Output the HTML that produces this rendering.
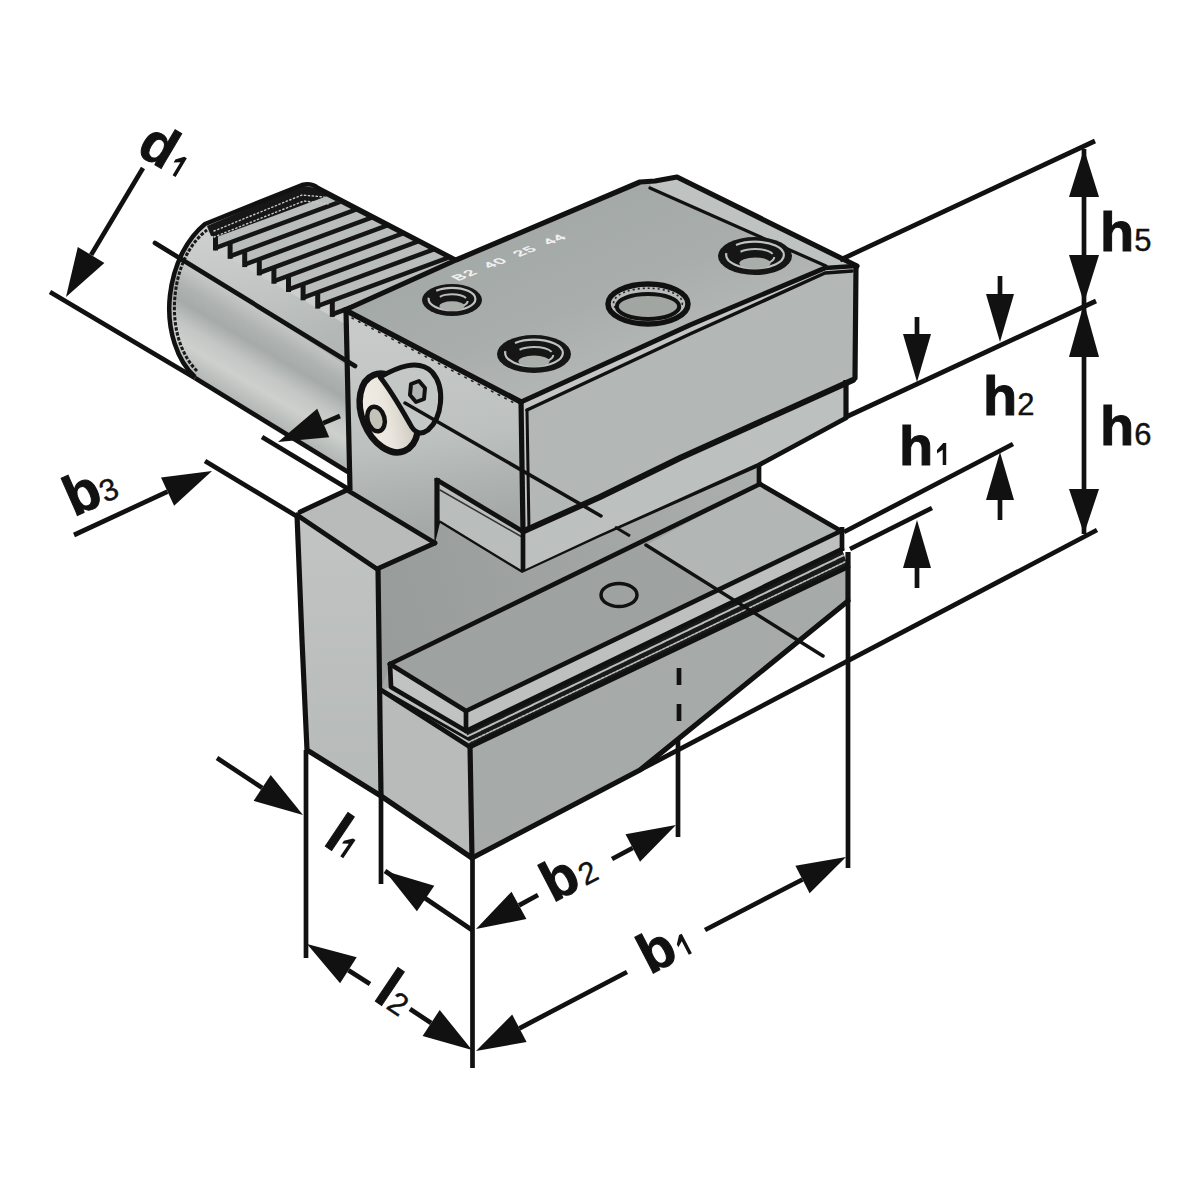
<!DOCTYPE html>
<html><head><meta charset="utf-8"><style>
html,body{margin:0;padding:0;background:#fff;}
svg{display:block;}
text{font-family:"Liberation Sans", sans-serif;fill:#111;}
</style></head><body>
<svg width="1200" height="1200" viewBox="0 0 1200 1200">
<defs>
<linearGradient id="gCyl" gradientUnits="userSpaceOnUse" x1="222" y1="236" x2="152" y2="354">
 <stop offset="0" stop-color="#cdd0ce"/>
 <stop offset="0.3" stop-color="#c7cac8"/>
 <stop offset="0.45" stop-color="#afb3b2"/>
 <stop offset="0.56" stop-color="#a6aba9"/>
 <stop offset="0.7" stop-color="#c3c6c4"/>
 <stop offset="0.82" stop-color="#cdd0cd"/>
 <stop offset="1" stop-color="#b0b4b2"/>
</linearGradient>
<linearGradient id="gLeft" gradientUnits="userSpaceOnUse" x1="400" y1="330" x2="430" y2="530">
 <stop offset="0" stop-color="#c7cac8"/>
 <stop offset="0.55" stop-color="#bdc1bf"/>
 <stop offset="0.8" stop-color="#aeb2b0"/>
 <stop offset="1" stop-color="#a4a9a7"/>
</linearGradient>
<linearGradient id="gPillar" x1="0" y1="0" x2="0" y2="1">
 <stop offset="0" stop-color="#c1c4c2"/>
 <stop offset="1" stop-color="#b6bab8"/>
</linearGradient>
<linearGradient id="gWall" gradientUnits="userSpaceOnUse" x1="380" y1="600" x2="760" y2="480">
 <stop offset="0" stop-color="#989d9c"/>
 <stop offset="0.5" stop-color="#a0a5a3"/>
 <stop offset="1" stop-color="#abafad"/>
</linearGradient>
<linearGradient id="gBolt" x1="0" y1="0" x2="1" y2="0.3">
 <stop offset="0" stop-color="#f3f0ea"/>
 <stop offset="0.55" stop-color="#ebe6dd"/>
 <stop offset="1" stop-color="#cfcac1"/>
</linearGradient>
<linearGradient id="gTop" gradientUnits="userSpaceOnUse" x1="600" y1="190" x2="660" y2="340">
 <stop offset="0" stop-color="#a3a9a6"/>
 <stop offset="0.6" stop-color="#a9aeac"/>
 <stop offset="1" stop-color="#b1b5b3"/>
</linearGradient>
<linearGradient id="gCylOv" gradientUnits="userSpaceOnUse" x1="205" y1="250" x2="340" y2="330">
 <stop offset="0" stop-color="#5a6464" stop-opacity="0"/>
 <stop offset="0.5" stop-color="#5a6464" stop-opacity="0.08"/>
 <stop offset="1" stop-color="#5a6464" stop-opacity="0.2"/>
</linearGradient>
</defs>
<rect width="1200" height="1200" fill="#fff"/>
<polygon points="297,515 350,488 437,478 522,528 523,573 600,537 757,466 759,484 841,531 842,549 848,567 848,601 640,770 472,858 307,750" fill="#a3a8a7" />
<path d="M195,377 C178,362 166,330 170,295 C174,262 188,238 205,224 L302,185 C310,183 314,185 318,188 L453,256 L345,310 L348,472 Z" fill="url(#gCyl)"/>
<polygon points="185,250 215,250 347,325 347,366 180,258" fill="url(#gCylOv)" />
<polygon points="207,224 302,185 318,188 456,260 345,310 361.0,319.8 346.4,325.2 346.4,310.7 346.4,311.5 331.8,316.9 331.8,302.4 331.8,303.2 317.2,308.6 317.2,294.1 317.2,294.9 302.6,300.3 302.6,285.8 302.6,286.6 288.0,292.0 288.0,277.5 288.0,278.3 273.4,283.7 273.4,269.2 273.4,270.0 258.8,275.4 258.8,260.9 258.8,261.7 244.2,267.1 244.2,252.6 244.2,253.4 229.6,258.8 229.6,244.3 229.6,245.1 215.0,250.5 215.0,236.0 208,232" fill="#b9bdbb" />
<polygon points="215.0,245.7 335.9,201.0 341.4,203.7 215.0,250.5" fill="#151515" />
<polygon points="213.0,235.5 218.0,235.5 218.0,250.5 213.0,250.5" fill="#151515" />
<polygon points="229.6,254.0 351.7,208.8 357.2,211.6 229.6,258.8" fill="#151515" />
<polygon points="227.6,243.8 232.6,243.8 232.6,258.8 227.6,258.8" fill="#151515" />
<polygon points="244.2,262.3 367.4,216.7 372.9,219.5 244.2,267.1" fill="#151515" />
<polygon points="242.2,252.1 247.2,252.1 247.2,267.1 242.2,267.1" fill="#151515" />
<polygon points="258.8,270.6 383.2,224.6 388.7,227.3 258.8,275.4" fill="#151515" />
<polygon points="256.8,260.4 261.8,260.4 261.8,275.4 256.8,275.4" fill="#151515" />
<polygon points="273.4,278.9 398.9,232.5 404.4,235.2 273.4,283.7" fill="#151515" />
<polygon points="271.4,268.7 276.4,268.7 276.4,283.7 271.4,283.7" fill="#151515" />
<polygon points="288.0,287.2 414.7,240.3 420.2,243.1 288.0,292.0" fill="#151515" />
<polygon points="286.0,277.0 291.0,277.0 291.0,292.0 286.0,292.0" fill="#151515" />
<polygon points="302.6,295.5 430.4,248.2 435.9,251.0 302.6,300.3" fill="#151515" />
<polygon points="300.6,285.3 305.6,285.3 305.6,300.3 300.6,300.3" fill="#151515" />
<polygon points="317.2,303.8 446.2,256.1 451.7,258.8 317.2,308.6" fill="#151515" />
<polygon points="315.2,293.6 320.2,293.6 320.2,308.6 315.2,308.6" fill="#151515" />
<polygon points="331.8,312.1 461.9,264.0 467.4,266.7 331.8,316.9" fill="#151515" />
<polygon points="329.8,301.9 334.8,301.9 334.8,316.9 329.8,316.9" fill="#151515" />
<polygon points="346.4,320.4 477.7,271.8 483.2,274.6 346.4,325.2" fill="#151515" />
<polygon points="344.4,310.2 349.4,310.2 349.4,325.2 344.4,325.2" fill="#151515" />
<polygon points="318,188 456,260 454,262 318,192" fill="#151515" />
<polygon points="207,226 302,186 318,188 326.6,196.3 218.0,236.5 211,236" fill="#171717" />
<polyline points="214,231 302,195 324,197" fill="none" stroke="#c4c8c6" stroke-width="1.4" stroke-linejoin="round" stroke-linecap="round" stroke-dasharray="1.3 2.6" stroke-linecap="butt"/>
<polyline points="214,237 304,201 328,204" fill="none" stroke="#c4c8c6" stroke-width="1.4" stroke-linejoin="round" stroke-linecap="round" stroke-dasharray="1.3 2.6" stroke-linecap="butt"/>
<path d="M195,377 C178,362 166,330 170,295 C174,262 188,238 205,224 L302,185 C310,183 314,185 318,188 L456,260" fill="none" stroke="#111" stroke-width="4.5" stroke-linejoin="round"/>
<path d="M197,371 C181,355 172,328 175,296 C178,265 191,242 207,230" fill="none" stroke="#1a1a1a" stroke-width="3" stroke-dasharray="3.5 1.6"/>
<polygon points="345,310 521,402 524,531 437,480 437,543 350,490" fill="url(#gLeft)" />
<polygon points="345,310 456,260 640,182 655,181 677,177 857,266 855,266 825,268 690,325 521,402" fill="url(#gTop)" />
<polygon points="650,182 677,177 857,266 826,267 652,190" fill="#bec2c0" />
<polyline points="650,188 826,266" fill="none" stroke="#111" stroke-width="3.2" stroke-linejoin="round" stroke-linecap="round" />
<polygon points="521,402 690,325 825,268 855,266 855,378 853,380 680,458 600,497 524,531" fill="#b3b7b5" />
<polygon points="521,402 690,325 825,268 855,266 852,271 825,273 690,334 527,410" fill="#c3c6c4" />
<polygon points="521,402 527,410 529,531 523,531" fill="#c3c6c4" />
<polyline points="345,310 456,260 640,182 655,181 677,177 857,266" fill="none" stroke="#111" stroke-width="5.2" stroke-linejoin="round" stroke-linecap="round" />
<polyline points="345,310 521,402" fill="none" stroke="#111" stroke-width="5.5" stroke-linejoin="round" stroke-linecap="round" />
<polyline points="352,318 518,405" fill="none" stroke="#222" stroke-width="1.6" stroke-linejoin="round" stroke-linecap="round" stroke-dasharray="1.5 6"/>
<polyline points="521,402 690,325 825,268 855,266" fill="none" stroke="#111" stroke-width="4.7" stroke-linejoin="round" stroke-linecap="round" />
<polyline points="527,410 690,334 825,273 852,271" fill="none" stroke="#111" stroke-width="3.5" stroke-linejoin="round" stroke-linecap="round" />
<line x1="521" y1="400" x2="523" y2="531" stroke="#111" stroke-width="5.2" stroke-linecap="butt" />
<line x1="527" y1="410" x2="529" y2="531" stroke="#111" stroke-width="3" stroke-linecap="butt" />
<polyline points="856,266 855,378" fill="none" stroke="#111" stroke-width="5.2" stroke-linejoin="round" stroke-linecap="round" />
<line x1="346" y1="310" x2="350" y2="490" stroke="#111" stroke-width="5.2" stroke-linecap="butt" />
<polygon points="524,531 600,497 680,458 853,380 846,380 846,418 757,466 600,537 523,573" fill="#bcc0be" />
<polygon points="437,480 522,531 522,573 440,523" fill="#b9bdbb" />
<polyline points="437,480 522,531" fill="none" stroke="#111" stroke-width="4.7" stroke-linejoin="round" stroke-linecap="round" />
<polyline points="440,490 522,537" fill="none" stroke="#333" stroke-width="1.5" stroke-linejoin="round" stroke-linecap="round" />
<polyline points="440,523 522,573" fill="none" stroke="#111" stroke-width="4.7" stroke-linejoin="round" stroke-linecap="round" />
<line x1="437" y1="478" x2="437" y2="545" stroke="#111" stroke-width="5.2" stroke-linecap="butt" />
<polyline points="853,380 680,458 600,497 524,531" fill="none" stroke="#111" stroke-width="6" stroke-linejoin="round" stroke-linecap="round" />
<polyline points="523,573 600,537 757,466 846,418" fill="none" stroke="#111" stroke-width="4.7" stroke-linejoin="round" stroke-linecap="round" />
<line x1="846" y1="380" x2="846" y2="418" stroke="#111" stroke-width="5.2" stroke-linecap="butt" />
<line x1="523" y1="531" x2="523" y2="573" stroke="#111" stroke-width="4.7" stroke-linecap="butt" />
<polygon points="378,569 435,543 440,523 522,573 600,537 759,467 759,484 390,664 381,690" fill="url(#gWall)" />
<line x1="759" y1="466" x2="759" y2="486" stroke="#111" stroke-width="4.7" stroke-linecap="butt" />
<polygon points="390,664 760,484 841,531 466,711" fill="#9ea3a1" />
<polygon points="646,545 760,484 841,531 716,592" fill="#b2b6b4" />
<polygon points="390,664 466,711 466,731 391,687" fill="#c0c3c1" />
<polygon points="466,711 841,531 842,549 466,731" fill="#bdc0be" />
<polygon points="381,690 391,687 466,731 470,747" fill="#bcc0be" />
<polygon points="466,731 842,549 848,567 470,747" fill="#1a1a1a" />
<polyline points="466,737 843,555.5" fill="none" stroke="#b9bdbb" stroke-width="2" stroke-linejoin="round" stroke-linecap="round" stroke-dasharray="3 1.2"/>
<polyline points="468,742.5 846,561.5" fill="none" stroke="#b9bdbb" stroke-width="1.6" stroke-linejoin="round" stroke-linecap="round" stroke-dasharray="2.5 1.5"/>
<polyline points="384,691 468,739" fill="none" stroke="#111" stroke-width="3" stroke-linejoin="round" stroke-linecap="round" />
<polygon points="470,747 848,567 848,601 640,770 472,858" fill="#a6aaa8" />
<polygon points="381,692 470,747 472,858 381,795" fill="#b8bbb9" />
<polygon points="297,515 377,569 381,794 307,750" fill="url(#gPillar)" />
<polygon points="297,515 347,491 435,543 377,569" fill="#b8bbba" />
<polyline points="300,512 347,490 435,543" fill="none" stroke="#111" stroke-width="4.7" stroke-linejoin="round" stroke-linecap="round" />
<polyline points="297,515 377,569 435,543" fill="none" stroke="#111" stroke-width="4.7" stroke-linejoin="round" stroke-linecap="round" />
<polyline points="297,515 302,640 307,750 381,796 472,858" fill="none" stroke="#111" stroke-width="5.2" stroke-linejoin="round" stroke-linecap="round" />
<line x1="378" y1="567" x2="381" y2="796" stroke="#111" stroke-width="5.2" stroke-linecap="butt" />
<polyline points="390,664 760,484" fill="none" stroke="#111" stroke-width="4.7" stroke-linejoin="round" stroke-linecap="round" />
<polyline points="760,484 841,531" fill="none" stroke="#111" stroke-width="4.7" stroke-linejoin="round" stroke-linecap="round" />
<polyline points="390,664 466,711 841,531" fill="none" stroke="#111" stroke-width="4.7" stroke-linejoin="round" stroke-linecap="round" />
<polyline points="390,664 391,687 466,731" fill="none" stroke="#111" stroke-width="4.7" stroke-linejoin="round" stroke-linecap="round" />
<line x1="466" y1="709" x2="466" y2="731" stroke="#111" stroke-width="4.7" stroke-linecap="butt" />
<polyline points="466,731 842,549" fill="none" stroke="#111" stroke-width="4.7" stroke-linejoin="round" stroke-linecap="round" />
<polyline points="470,747 848,567" fill="none" stroke="#111" stroke-width="4.7" stroke-linejoin="round" stroke-linecap="round" />
<polyline points="381,690 470,747" fill="none" stroke="#111" stroke-width="4.7" stroke-linejoin="round" stroke-linecap="round" />
<line x1="470" y1="745" x2="472" y2="858" stroke="#111" stroke-width="5.2" stroke-linecap="butt" />
<line x1="842" y1="527" x2="842" y2="551" stroke="#111" stroke-width="4.7" stroke-linecap="butt" />
<line x1="848" y1="552" x2="848" y2="601" stroke="#111" stroke-width="5.2" stroke-linecap="butt" />
<polyline points="848,601 640,770 472,858" fill="none" stroke="#111" stroke-width="5.2" stroke-linejoin="round" stroke-linecap="round" />
<ellipse cx="619" cy="595" rx="18" ry="11.5" fill="none" stroke="#111" stroke-width="3.5"/>
<line x1="679" y1="668" x2="679" y2="685" stroke="#111" stroke-width="4.7" stroke-linecap="butt" />
<line x1="679" y1="704" x2="679" y2="721" stroke="#111" stroke-width="4.7" stroke-linecap="butt" />
<polyline points="155,243 355,366" fill="none" stroke="#111" stroke-width="4.7" stroke-linejoin="round" stroke-linecap="round" />
<line x1="615" y1="527" x2="630" y2="536" stroke="#111" stroke-width="3" stroke-linecap="butt" />
<polyline points="646,545 823,656" fill="none" stroke="#111" stroke-width="3.5" stroke-linejoin="round" stroke-linecap="round" />
<ellipse cx="452" cy="300" rx="30" ry="16" fill="#161616"/>
<ellipse cx="452" cy="299" rx="23.400000000000002" ry="11.2" fill="none" stroke="#bec2c0" stroke-width="2.2" stroke-dasharray="57.0 10.5"/>
<ellipse cx="452" cy="301" rx="15.600000000000001" ry="6.72" fill="none" stroke="#b8bcba" stroke-width="2" stroke-dasharray="27.0 15.0"/>
<ellipse cx="452" cy="306.08" rx="12.6" ry="4.8" fill="#a9aeab"/>
<ellipse cx="534" cy="354" rx="37" ry="19" fill="#161616"/>
<ellipse cx="534" cy="353" rx="28.86" ry="13.299999999999999" fill="none" stroke="#bec2c0" stroke-width="2.2" stroke-dasharray="70.3 12.95"/>
<ellipse cx="534" cy="355" rx="19.240000000000002" ry="7.9799999999999995" fill="none" stroke="#b8bcba" stroke-width="2" stroke-dasharray="33.300000000000004 18.5"/>
<ellipse cx="534" cy="361.22" rx="15.54" ry="5.7" fill="#a9aeab"/>
<ellipse cx="648" cy="304" rx="40" ry="20" fill="#b8bcba" stroke="#111" stroke-width="5.5"/>
<ellipse cx="648" cy="303" rx="34.4" ry="14.8" fill="none" stroke="#222" stroke-width="1.6" stroke-dasharray="2 3"/>
<ellipse cx="648" cy="306.5" rx="31.200000000000003" ry="12.4" fill="#a1a6a3" stroke="#111" stroke-width="4"/>
<ellipse cx="755" cy="256" rx="37" ry="19" fill="#161616"/>
<ellipse cx="755" cy="255" rx="28.86" ry="13.299999999999999" fill="none" stroke="#bec2c0" stroke-width="2.2" stroke-dasharray="70.3 12.95"/>
<ellipse cx="755" cy="257" rx="19.240000000000002" ry="7.9799999999999995" fill="none" stroke="#b8bcba" stroke-width="2" stroke-dasharray="33.300000000000004 18.5"/>
<ellipse cx="755" cy="263.22" rx="15.54" ry="5.7" fill="#a9aeab"/>
<text x="0" y="0" font-size="16" style="fill:#f2f2f2;stroke:#f2f2f2;stroke-width:0.7" transform="matrix(0.93,-0.367,0.7,0.365,458,281)" letter-spacing="1.6" word-spacing="5">B2 40 25 44</text>
<ellipse cx="389" cy="413" rx="27" ry="41" transform="rotate(-22 389 413)" fill="url(#gBolt)" stroke="#111" stroke-width="6.5"/>
<path d="M380,377 C396,368 418,358 432,372 C446,388 442,418 428,430 C420,436 414,432 410,424 C402,410 392,392 380,377 Z" fill="#c3c7c5" stroke="#111" stroke-width="5" stroke-linejoin="round"/>
<polygon points="411,384 419,381 425,388 424,399 416,402 410,395" fill="#b0b4b2" stroke="#111" stroke-width="4" stroke-linejoin="round" />
<polyline points="405,403 601,516" fill="none" stroke="#111" stroke-width="3.5" stroke-linejoin="round" stroke-linecap="round" />
<ellipse cx="376" cy="419" rx="8.5" ry="12.5" transform="rotate(-15 376 419)" fill="#c4c3ba" stroke="#111" stroke-width="4.5"/>
<line x1="50" y1="292" x2="195" y2="378" stroke="#111" stroke-width="4.7" stroke-linecap="butt" />
<line x1="195" y1="378" x2="348" y2="472" stroke="#111" stroke-width="4.7" stroke-linecap="butt" />
<line x1="143" y1="168" x2="91.1" y2="254.9" stroke="#111" stroke-width="4.7" stroke-linecap="butt" />
<polygon points="66,297 77.8,247.0 104.4,262.9" fill="#111" />
<line x1="262" y1="437" x2="350" y2="490" stroke="#111" stroke-width="4.7" stroke-linecap="butt" />
<line x1="205" y1="461" x2="298" y2="517" stroke="#111" stroke-width="4.7" stroke-linecap="butt" />
<line x1="74" y1="535" x2="167.5" y2="491.6" stroke="#111" stroke-width="4.7" stroke-linecap="butt" />
<polygon points="212,471 174.1,505.7 161.0,477.6" fill="#111" />
<line x1="340" y1="416" x2="323.2" y2="423.1" stroke="#111" stroke-width="4.7" stroke-linecap="butt" />
<polygon points="278,442 317.2,408.8 329.2,437.3" fill="#111" />
<line x1="840" y1="260" x2="1095" y2="141" stroke="#111" stroke-width="4.7" stroke-linecap="butt" />
<line x1="846" y1="417" x2="1096" y2="301" stroke="#111" stroke-width="4.7" stroke-linecap="butt" />
<line x1="844" y1="532" x2="1013" y2="444" stroke="#111" stroke-width="4.7" stroke-linecap="butt" />
<line x1="850" y1="549" x2="932" y2="508" stroke="#111" stroke-width="4.7" stroke-linecap="butt" />
<line x1="640" y1="770" x2="1097" y2="530" stroke="#111" stroke-width="4.7" stroke-linecap="butt" />
<line x1="1084" y1="149" x2="1084" y2="534" stroke="#111" stroke-width="4.7" stroke-linecap="butt" />
<polygon points="1084,149 1099.0,197.0 1069.0,197.0" fill="#111" />
<polygon points="1084,303 1069.0,255.0 1099.0,255.0" fill="#111" />
<polygon points="1084,303 1099.0,357.0 1069.0,357.0" fill="#111" />
<polygon points="1084,534 1069.0,489.0 1099.0,489.0" fill="#111" />
<line x1="1000" y1="276" x2="1000.0" y2="294.0" stroke="#111" stroke-width="4.7" stroke-linecap="butt" />
<polygon points="1000,342 986.0,294.0 1014.0,294.0" fill="#111" />
<line x1="1000" y1="520" x2="1000.0" y2="500.0" stroke="#111" stroke-width="4.7" stroke-linecap="butt" />
<polygon points="1000,452 1014.0,500.0 986.0,500.0" fill="#111" />
<line x1="917" y1="317" x2="917.0" y2="334.0" stroke="#111" stroke-width="4.7" stroke-linecap="butt" />
<polygon points="917,382 903.0,334.0 931.0,334.0" fill="#111" />
<line x1="917" y1="588" x2="917.0" y2="568.0" stroke="#111" stroke-width="4.7" stroke-linecap="butt" />
<polygon points="917,520 931.0,568.0 903.0,568.0" fill="#111" />
<line x1="306" y1="750" x2="306" y2="958" stroke="#111" stroke-width="4.7" stroke-linecap="butt" />
<line x1="381" y1="796" x2="381" y2="884" stroke="#111" stroke-width="4.7" stroke-linecap="butt" />
<line x1="472.5" y1="858" x2="472.5" y2="1068" stroke="#111" stroke-width="4.7" stroke-linecap="butt" />
<line x1="678" y1="740" x2="678" y2="837" stroke="#111" stroke-width="4.7" stroke-linecap="butt" />
<line x1="848" y1="601" x2="848" y2="868" stroke="#111" stroke-width="4.7" stroke-linecap="butt" />
<line x1="217" y1="758" x2="262.2" y2="787.9" stroke="#111" stroke-width="4.7" stroke-linecap="butt" />
<polygon points="303,815 253.6,800.8 270.7,775.0" fill="#111" />
<polygon points="385,871 434.3,885.7 416.9,911.3" fill="#111" />
<line x1="385" y1="871" x2="472" y2="930" stroke="#111" stroke-width="4.7" stroke-linecap="butt" />
<line x1="538" y1="895" x2="519.0" y2="905.4" stroke="#111" stroke-width="4.7" stroke-linecap="butt" />
<polygon points="476,929 511.5,891.8 526.4,919.0" fill="#111" />
<line x1="612" y1="859" x2="632.7" y2="848.0" stroke="#111" stroke-width="4.7" stroke-linecap="butt" />
<polygon points="676,825 640.0,861.7 625.5,834.3" fill="#111" />
<line x1="370" y1="984" x2="348.4" y2="970.3" stroke="#111" stroke-width="4.7" stroke-linecap="butt" />
<polygon points="307,944 356.7,957.2 340.1,983.3" fill="#111" />
<line x1="410" y1="1009" x2="431.1" y2="1023.0" stroke="#111" stroke-width="4.7" stroke-linecap="butt" />
<polygon points="472,1050 422.6,1035.9 439.7,1010.0" fill="#111" />
<line x1="627" y1="972" x2="519.4" y2="1028.3" stroke="#111" stroke-width="4.7" stroke-linecap="butt" />
<polygon points="476,1051 512.2,1014.6 526.6,1042.0" fill="#111" />
<line x1="705" y1="930" x2="802.5" y2="879.5" stroke="#111" stroke-width="4.7" stroke-linecap="butt" />
<polygon points="846,857 809.6,893.3 795.4,865.8" fill="#111" />
<text x="1100" y="251" font-size="56" font-weight="bold" transform="rotate(0 1100 251)"><tspan stroke="#111" stroke-width="1">h</tspan><tspan font-size="31" font-weight="normal" dx="0" stroke="#111" stroke-width="0.4">5</tspan></text>
<text x="1100" y="445" font-size="56" font-weight="bold" transform="rotate(0 1100 445)"><tspan stroke="#111" stroke-width="1">h</tspan><tspan font-size="31" font-weight="normal" dx="0" stroke="#111" stroke-width="0.4">6</tspan></text>
<text x="983" y="415" font-size="56" font-weight="bold" transform="rotate(0 983 415)"><tspan stroke="#111" stroke-width="1">h</tspan><tspan font-size="31" font-weight="normal" dx="0" stroke="#111" stroke-width="0.4">2</tspan></text>
<text x="899" y="465" font-size="56" font-weight="bold" stroke="#111" stroke-width="1" transform="rotate(0 899 465)">h</text>
<path d="M9.5,0 L9.5,-15.2 L3.8,-11.6 L3.8,-14.9 L10,-22 L13,-22 L13,0 Z" fill="#111" transform="rotate(0 899 465) translate(933.216 465) skewX(0) scale(1.0)"/>
<text x="650" y="975" font-size="56" font-weight="bold" stroke="#111" stroke-width="1" transform="rotate(-27.5 650 975)">b</text>
<path d="M9.5,0 L9.5,-15.2 L3.8,-11.6 L3.8,-14.9 L10,-22 L13,-22 L13,0 Z" fill="#111" transform="rotate(-27.5 650 975) translate(684.216 975) skewX(0) scale(1.0)"/>
<text x="553" y="903" font-size="56" font-weight="bold" transform="rotate(-27.5 553 903)"><tspan stroke="#111" stroke-width="1">b</tspan><tspan font-size="31" font-weight="normal" dx="2" stroke="#111" stroke-width="0.4">2</tspan></text>
<text x="74" y="517" font-size="56" font-weight="bold" transform="rotate(-24 74 517)"><tspan stroke="#111" stroke-width="1">b</tspan><tspan font-size="31" font-weight="normal" dx="0" stroke="#111" stroke-width="0.4">3</tspan></text>
<text x="135" y="153" font-size="56" font-weight="bold" stroke="#111" stroke-width="1" transform="rotate(30.7 135 153)">d</text>
<path d="M9.5,0 L9.5,-15.2 L3.8,-11.6 L3.8,-14.9 L10,-22 L13,-22 L13,0 Z" fill="#111" transform="rotate(30.7 135 153) translate(169.216 153) skewX(0) scale(1.0)"/>
<text x="322" y="844" font-size="56" font-weight="bold" stroke="#111" stroke-width="1" transform="rotate(34 322 844)">l</text>
<path d="M9.5,0 L9.5,-15.2 L3.8,-11.6 L3.8,-14.9 L10,-22 L13,-22 L13,0 Z" fill="#111" transform="rotate(34 322 844) translate(334.568 844) skewX(0) scale(1.0)"/>
<text x="372" y="999" font-size="56" font-weight="bold" transform="rotate(34 372 999)"><tspan stroke="#111" stroke-width="1">l</tspan><tspan font-size="31" font-weight="normal" dx="0" stroke="#111" stroke-width="0.4">2</tspan></text>
</svg>
</body></html>
